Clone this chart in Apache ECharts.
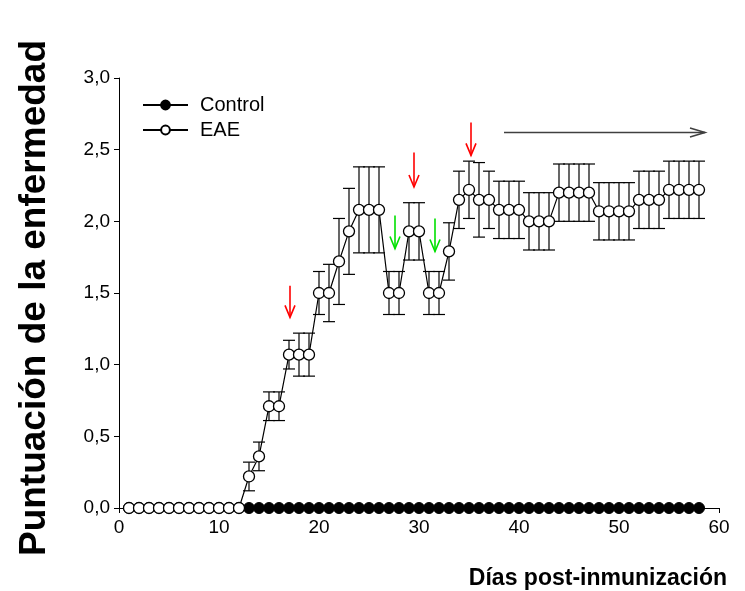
<!DOCTYPE html>
<html>
<head>
<meta charset="utf-8">
<script src="https://cdn.jsdelivr.net/npm/echarts@6/dist/echarts.min.js"></script>
<style>
html,body{margin:0;padding:0;background:#fff;}
#chart{width:745px;height:591px;}
</style>
</head>
<body>
<div id="chart"></div>
<script>
// ---- Data ----
const days = [1,2,3,4,5,6,7,8,9,10,11,12,13,14,15,16,17,18,19,20,21,22,23,24,25,26,27,28,29,30,31,32,33,34,35,36,37,38,39,40,41,42,43,44,45,46,47,48,49,50,51,52,53,54,55,56,57,58];
const controlMean = [0,0,0,0,0,0,0,0,0,0,0,0,0,0,0,0,0,0,0,0,0,0,0,0,0,0,0,0,0,0,0,0,0,0,0,0,0,0,0,0,0,0,0,0,0,0,0,0,0,0,0,0,0,0,0,0,0,0];
const eaeMean = [0,0,0,0,0,0,0,0,0,0,0,0,0.22,0.36,0.71,0.71,1.07,1.07,1.07,1.5,1.5,1.72,1.93,2.08,2.08,2.08,1.5,1.5,1.93,1.93,1.5,1.5,1.79,2.15,2.22,2.15,2.15,2.08,2.08,2.08,2.0,2.0,2.0,2.2,2.2,2.2,2.2,2.07,2.07,2.07,2.07,2.15,2.15,2.15,2.22,2.22,2.22,2.22];
const eaeSem = [0,0,0,0,0,0,0,0,0,0,0,0,0.1,0.1,0.1,0.1,0.1,0.15,0.15,0.15,0.2,0.3,0.3,0.3,0.3,0.3,0.15,0.15,0.2,0.2,0.15,0.15,0.2,0.2,0.2,0.26,0.2,0.2,0.2,0.2,0.2,0.2,0.2,0.2,0.2,0.2,0.2,0.2,0.2,0.2,0.2,0.2,0.2,0.2,0.2,0.2,0.2,0.2];
const yTicks = [0,0.5,1.0,1.5,2.0,2.5,3.0];
const xTicks = [0,10,20,30,40,50,60];
// annotation arrows: [x, yStart, yEnd]
const redArrows = [[17.1,1.55,1.33],[29.5,2.48,2.24],[35.2,2.69,2.46]];
const greenArrows = [[27.6,2.04,1.81],[31.6,2.02,1.79]];
// horizontal arrow: [xStart, xEnd, y]
const rangeArrow = [38.5,58.6,2.62];
const seriesNames = ['Control','EAE'];
const yTitle = 'Puntuación de la enfermedad';
const xTitle = 'Días post-inmunización';

// ---- Build ----
const controlData = days.map((d,i)=>[d,controlMean[i]]);
const eaeData = days.map((d,i)=>[d,eaeMean[i]]);
const errData = [];
days.forEach((d,i)=>{ if(eaeSem[i]>0) errData.push([d,eaeMean[i]-eaeSem[i],eaeMean[i]+eaeSem[i]]); });
const arrowData = [];
redArrows.forEach(a=>arrowData.push([a[0],a[1],a[0],a[2],'#ff0000']));
greenArrows.forEach(a=>arrowData.push([a[0],a[1],a[0],a[2],'#00e000']));
arrowData.push([rangeArrow[0],rangeArrow[2],rangeArrow[1],rangeArrow[2],'#404040']);

const chart = echarts.init(document.getElementById('chart'));
const font = 'Liberation Sans, Arial, sans-serif';

function renderErr(params, api){
  const x = api.value(0), lo = api.value(1), hi = api.value(2);
  const pt = api.coord([x,hi]), pb = api.coord([x,lo]);
  const w = 6;
  const st = {stroke:'#000', lineWidth:1.2};
  return {type:'group', children:[
    {type:'line', shape:{x1:pt[0],y1:pt[1],x2:pb[0],y2:pb[1]}, style:st},
    {type:'line', shape:{x1:pt[0]-w,y1:pt[1],x2:pt[0]+w,y2:pt[1]}, style:st},
    {type:'line', shape:{x1:pb[0]-w,y1:pb[1],x2:pb[0]+w,y2:pb[1]}, style:st}
  ]};
}
function renderArrow(params, api){
  const p1 = api.coord([api.value(0),api.value(1)]);
  const p2 = api.coord([api.value(2),api.value(3)]);
  const color = arrowData[params.dataIndex][4];
  const dx = p2[0]-p1[0], dy = p2[1]-p1[1];
  const len = Math.sqrt(dx*dx+dy*dy);
  const ux = dx/len, uy = dy/len;
  const horiz = Math.abs(dx) > Math.abs(dy);
  const hl = horiz ? 15 : 12, hw = horiz ? 4.5 : 5;
  const bx = p2[0]-ux*hl, by = p2[1]-uy*hl;
  const nx = -uy, ny = ux;
  const st = {stroke:color, lineWidth:1.6, fill:null};
  return {type:'group', children:[
    {type:'line', shape:{x1:p1[0],y1:p1[1],x2:p2[0],y2:p2[1]}, style:st},
    {type:'polyline', shape:{points:[[bx+nx*hw,by+ny*hw],[p2[0],p2[1]],[bx-nx*hw,by-ny*hw]]}, style:st}
  ]};
}

const option = {
  animation:false,
  textStyle:{fontFamily:font},
  grid:{left:119, right:26, top:78, bottom:83, containLabel:false},
  legend:{
    orient:'vertical', left:137, top:90, itemWidth:45, itemHeight:11, itemGap:5,
    textStyle:{fontFamily:font, fontSize:20, color:'#000', padding:[0,0,0,7]},
    data:seriesNames
  },
  xAxis:{
    type:'value', min:0, max:60, interval:10,
    axisLine:{show:true, onZero:false, lineStyle:{color:'#000', width:1}},
    axisTick:{show:true, inside:false, length:5, lineStyle:{color:'#000'}},
    axisLabel:{fontFamily:font, fontSize:19, color:'#000', margin:10,
      formatter:v=> xTicks.indexOf(v)>=0 ? String(v) : ''},
    splitLine:{show:false}
  },
  yAxis:{
    type:'value', min:0, max:3, interval:0.5,
    axisLine:{show:true, lineStyle:{color:'#000', width:1}},
    axisTick:{show:true, inside:false, length:5, lineStyle:{color:'#000'}},
    axisLabel:{fontFamily:font, fontSize:19, color:'#000', margin:9,
      formatter:v=> yTicks.indexOf(v)>=0 ? v.toFixed(1).replace('.',',') : ''},
    splitLine:{show:false}
  },
  graphic:[{
    type:'text', right:18, top:567,
    style:{text:xTitle, font:'bold 23px '+font, fill:'#000'}
  },{
    type:'text', x:35, y:298, rotation:Math.PI/2,
    style:{text:yTitle, font:'bold 37px '+font, fill:'#000', align:'center', verticalAlign:'middle'}
  }],
  series:[
    {name:seriesNames[0], type:'line', data:controlData, z:2,
     symbol:'circle', symbolSize:11, showAllSymbol:true,
     itemStyle:{color:'#000', borderColor:'#000', borderWidth:1},
     lineStyle:{color:'#000', width:1.2}},
    {name:'err', type:'custom', data:errData, z:3, renderItem:renderErr,
     encode:{x:0, y:[1,2]}, silent:true},
    {name:seriesNames[1], type:'line', data:eaeData, z:4,
     symbol:'circle', symbolSize:11, showAllSymbol:true,
     itemStyle:{color:'#fff', borderColor:'#000', borderWidth:1.3},
     lineStyle:{color:'#000', width:1.2}},
    {name:'arrows', type:'custom', data:arrowData.map(a=>[a[0],a[1],a[2],a[3]]), z:5,
     renderItem:renderArrow, encode:{x:[0,2], y:[1,3]}, silent:true}
  ]
};
chart.setOption(option);
</script>
</body>
</html>
